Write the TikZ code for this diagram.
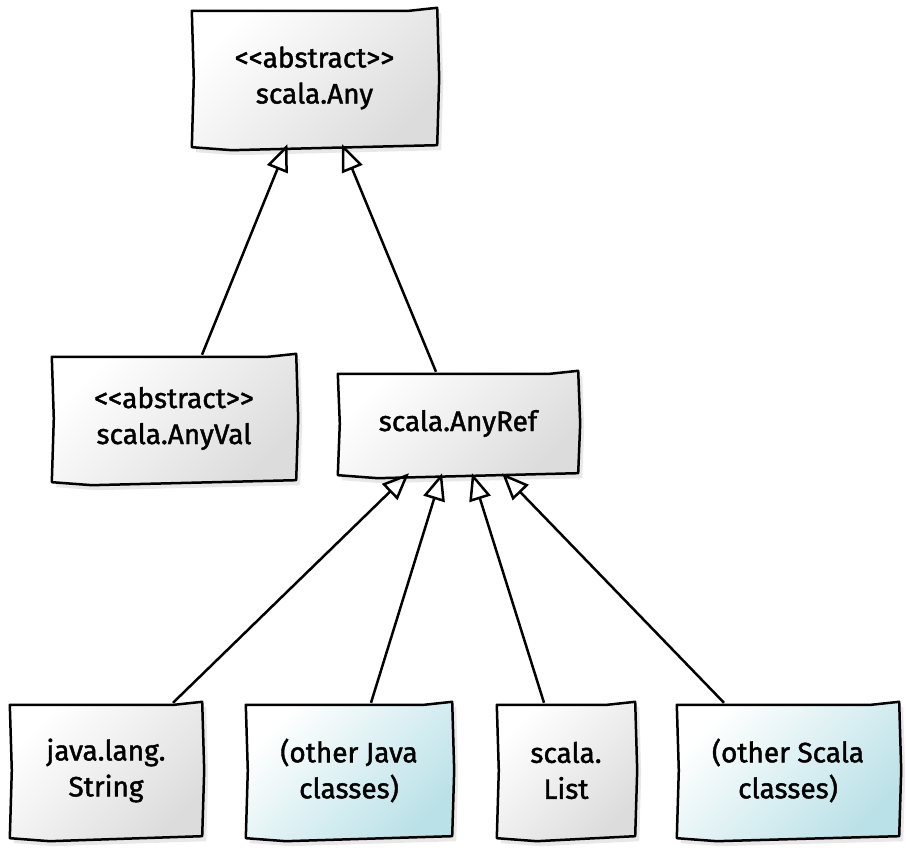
\documentclass[tikz,border=0pt]{standalone}
\usepackage{fontspec}
\setmainfont{Fira Sans}
\newfontfamily\boxfont{Fira Sans}[FakeBold=1.5]
\usetikzlibrary{arrows.meta,shadows,backgrounds}
\definecolor{graylo}{RGB}{220,220,220}
\definecolor{cyanlo}{RGB}{186,225,231}
\tikzset{
  box/.style={rectangle, inner sep=0pt, align=center, font=\boxfont\fontsize{28}{36}\selectfont},
  skline/.style={line width=2.5pt, line join=round, line cap=round},
  grayfill/.style={top color=white, bottom color=graylo, shading angle=45},
  cyanfill/.style={top color=white, bottom color=cyanlo, shading angle=45},
  shad/.style={drop shadow={shadow xshift=4pt, shadow yshift=-5pt, opacity=0.18}},
  gen/.style={line width=2.5pt, arrows={-Triangle[open, length=27pt, width=22pt]}}
}
\newcommand\skbox[2]{%
  \path[#2, shad] ([shift={(0pt,-2pt)}]#1.north west) -- ([shift={(-28pt,-2pt)}]#1.north east) -- ([shift={(0pt,1pt)}]#1.north east) -- ([shift={(2pt,0pt)}]#1.east) -- ([shift={(0pt,2pt)}]#1.south east) -- ([shift={(40pt,-3pt)}]#1.south west) -- (#1.south west) -- ([shift={(2pt,0pt)}]#1.west) -- cycle;
  \draw[skline] ([shift={(0pt,-2pt)}]#1.north west) -- ([shift={(-28pt,-2pt)}]#1.north east) -- ([shift={(0pt,1pt)}]#1.north east) -- ([shift={(2pt,0pt)}]#1.east) -- ([shift={(0pt,2pt)}]#1.south east) -- ([shift={(40pt,-3pt)}]#1.south west) -- (#1.south west) -- ([shift={(2pt,0pt)}]#1.west) -- cycle;}
\begin{document}
\begin{tikzpicture}[x=1pt,y=1pt]
\useasboundingbox (0,0) rectangle (906,850);
\node[box, minimum width=245pt, minimum height=138pt] (any) at (314.5,772) {<\kern0pt<abstract>\kern0pt>\\scala.Any};
\node[box, minimum width=244pt, minimum height=127pt] (anyval) at (174,431.5) {<\kern0pt<abstract>\kern0pt>\\scala.AnyVal};
\node[box, minimum width=240pt, minimum height=103pt] (anyref) at (458,426.5) {scala.AnyRef};
\node[box, minimum width=192pt, minimum height=135pt] (string) at (106,79.5) {java.lang.\\String};
\node[box, minimum width=206pt, minimum height=135pt] (ojava) at (349,79.5) {(other Java\\classes)};
\node[box, minimum width=138pt, minimum height=135pt] (list) at (566,79.5) {scala.\\List};
\node[box, minimum width=222pt, minimum height=135pt] (oscala) at (788,79.5) {(other Scala\\classes)};
\begin{scope}[on background layer]
\fill[white] (0,0) rectangle (906,850);
\skbox{any}{grayfill}
\skbox{anyval}{grayfill}
\skbox{anyref}{grayfill}
\skbox{string}{grayfill}
\skbox{ojava}{cyanfill}
\skbox{list}{grayfill}
\skbox{oscala}{cyanfill}
\end{scope}
\draw[gen] ([xshift=28pt]anyval.north) -- ([xshift=-27pt, yshift=3pt]any.south);
\draw[gen] ([xshift=-22pt]anyref.north) -- ([xshift=27.5pt, yshift=3pt]any.south);
\draw[gen] ([xshift=67pt]string.north) -- ([xshift=-49pt, yshift=2pt]anyref.south);
\draw[gen] ([xshift=22pt]ojava.north) -- ([xshift=-16pt, yshift=2pt]anyref.south);
\draw[gen] ([xshift=-22pt]list.north) -- ([xshift=14pt, yshift=2pt]anyref.south);
\draw[gen] ([xshift=-64pt]oscala.north) -- ([xshift=44pt, yshift=2pt]anyref.south);
\end{tikzpicture}
\end{document}
